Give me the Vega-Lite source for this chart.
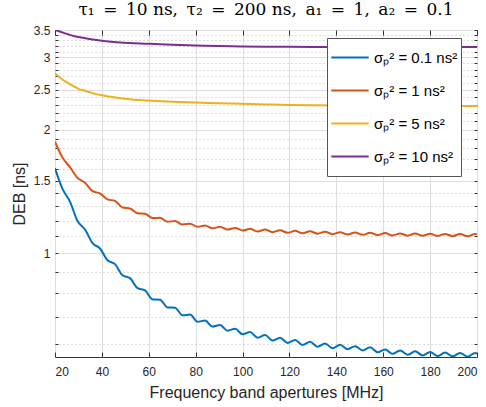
{
  "$schema": "https://vega.github.io/schema/vega-lite/v6.json",
  "width": 422,
  "height": 327,
  "autosize": {"type": "none"},
  "padding": {"left": 55, "top": 30, "right": 9, "bottom": 50},
  "background": "white",
  "title": {"text": "τ₁\u2002=\u200210 ns,\u2002τ₂\u2002=\u2002200 ns,\u2002a₁\u2002=\u20021,\u2002a₂\u2002=\u20020.1", "font": "DejaVu Serif", "fontSize": 17, "fontWeight": "normal", "color": "#000000", "anchor": "middle", "baseline": "alphabetic", "offset": 13, "dy": 21},
  "config": {
    "view": {"stroke": "#333333", "strokeWidth": 1},
    "axis": {"labelFont": "Liberation Sans", "labelFontSize": 12, "labelColor": "#262626", "titleFont": "Liberation Sans", "titleFontSize": 16, "titleFontWeight": "normal", "titleColor": "#262626", "domain": false, "tickColor": "#333333"}
  },
  "data": {"values": [
    {"s":"0.1","f":20,"d":1.61},{"s":"0.1","f":23.2,"d":1.434},{"s":"0.1","f":26.4,"d":1.335},{"s":"0.1","f":29.6,"d":1.197},{"s":"0.1","f":32.8,"d":1.142},{"s":"0.1","f":36,"d":1.058},{"s":"0.1","f":39.2,"d":1.026},{"s":"0.1","f":42.4,"d":0.961},{"s":"0.1","f":45.6,"d":0.94},{"s":"0.1","f":48.8,"d":0.883},{"s":"0.1","f":52,"d":0.869},{"s":"0.1","f":55.2,"d":0.821},{"s":"0.1","f":58.4,"d":0.811},{"s":"0.1","f":61.6,"d":0.771},{"s":"0.1","f":64.8,"d":0.77},{"s":"0.1","f":68,"d":0.737},{"s":"0.1","f":71.2,"d":0.736},{"s":"0.1","f":74.4,"d":0.705},{"s":"0.1","f":77.6,"d":0.708},{"s":"0.1","f":80.8,"d":0.68},{"s":"0.1","f":84,"d":0.685},{"s":"0.1","f":87.2,"d":0.662},{"s":"0.1","f":90.4,"d":0.668},{"s":"0.1","f":93.6,"d":0.647},{"s":"0.1","f":96.8,"d":0.654},{"s":"0.1","f":100,"d":0.634},{"s":"0.1","f":103.2,"d":0.642},{"s":"0.1","f":106.4,"d":0.622},{"s":"0.1","f":109.6,"d":0.631},{"s":"0.1","f":112.8,"d":0.612},{"s":"0.1","f":116,"d":0.622},{"s":"0.1","f":119.2,"d":0.604},{"s":"0.1","f":122.4,"d":0.614},{"s":"0.1","f":125.6,"d":0.597},{"s":"0.1","f":128.8,"d":0.608},{"s":"0.1","f":132,"d":0.591},{"s":"0.1","f":135.2,"d":0.602},{"s":"0.1","f":138.4,"d":0.586},{"s":"0.1","f":141.6,"d":0.598},{"s":"0.1","f":144.8,"d":0.583},{"s":"0.1","f":148,"d":0.593},{"s":"0.1","f":151.2,"d":0.579},{"s":"0.1","f":154.4,"d":0.589},{"s":"0.1","f":157.6,"d":0.573},{"s":"0.1","f":160.8,"d":0.582},{"s":"0.1","f":164,"d":0.568},{"s":"0.1","f":167.2,"d":0.579},{"s":"0.1","f":170.4,"d":0.565},{"s":"0.1","f":173.6,"d":0.576},{"s":"0.1","f":176.8,"d":0.563},{"s":"0.1","f":180,"d":0.574},{"s":"0.1","f":183.2,"d":0.561},{"s":"0.1","f":186.4,"d":0.572},{"s":"0.1","f":189.6,"d":0.56},{"s":"0.1","f":192.8,"d":0.571},{"s":"0.1","f":196,"d":0.559},{"s":"0.1","f":199.2,"d":0.571},{"s":"0.1","f":200,"d":0.569},
    {"s":"1","f":20,"d":1.87},{"s":"1","f":23.2,"d":1.71},{"s":"1","f":26.4,"d":1.62},{"s":"1","f":29.6,"d":1.526},{"s":"1","f":32.8,"d":1.484},{"s":"1","f":36,"d":1.416},{"s":"1","f":39.2,"d":1.398},{"s":"1","f":42.4,"d":1.352},{"s":"1","f":45.6,"d":1.341},{"s":"1","f":48.8,"d":1.292},{"s":"1","f":52,"d":1.285},{"s":"1","f":55.2,"d":1.25},{"s":"1","f":58.4,"d":1.247},{"s":"1","f":61.6,"d":1.218},{"s":"1","f":64.8,"d":1.219},{"s":"1","f":68,"d":1.193},{"s":"1","f":71.2,"d":1.197},{"s":"1","f":74.4,"d":1.174},{"s":"1","f":77.6,"d":1.18},{"s":"1","f":80.8,"d":1.159},{"s":"1","f":84,"d":1.168},{"s":"1","f":87.2,"d":1.149},{"s":"1","f":90.4,"d":1.159},{"s":"1","f":93.6,"d":1.141},{"s":"1","f":96.8,"d":1.152},{"s":"1","f":100,"d":1.135},{"s":"1","f":103.2,"d":1.146},{"s":"1","f":106.4,"d":1.129},{"s":"1","f":109.6,"d":1.141},{"s":"1","f":112.8,"d":1.125},{"s":"1","f":116,"d":1.137},{"s":"1","f":119.2,"d":1.121},{"s":"1","f":122.4,"d":1.133},{"s":"1","f":125.6,"d":1.118},{"s":"1","f":128.8,"d":1.13},{"s":"1","f":132,"d":1.115},{"s":"1","f":135.2,"d":1.128},{"s":"1","f":138.4,"d":1.112},{"s":"1","f":141.6,"d":1.125},{"s":"1","f":144.8,"d":1.11},{"s":"1","f":148,"d":1.123},{"s":"1","f":151.2,"d":1.108},{"s":"1","f":154.4,"d":1.121},{"s":"1","f":157.6,"d":1.106},{"s":"1","f":160.8,"d":1.119},{"s":"1","f":164,"d":1.104},{"s":"1","f":167.2,"d":1.117},{"s":"1","f":170.4,"d":1.103},{"s":"1","f":173.6,"d":1.116},{"s":"1","f":176.8,"d":1.102},{"s":"1","f":180,"d":1.115},{"s":"1","f":183.2,"d":1.101},{"s":"1","f":186.4,"d":1.114},{"s":"1","f":189.6,"d":1.1},{"s":"1","f":192.8,"d":1.114},{"s":"1","f":196,"d":1.099},{"s":"1","f":199.2,"d":1.113},{"s":"1","f":200,"d":1.11},
    {"s":"5","f":20,"d":2.746},{"s":"5","f":22,"d":2.68},{"s":"5","f":24,"d":2.63},{"s":"5","f":26,"d":2.59},{"s":"5","f":28,"d":2.55},{"s":"5","f":30,"d":2.515},{"s":"5","f":33,"d":2.485},{"s":"5","f":36,"d":2.455},{"s":"5","f":40,"d":2.425},{"s":"5","f":44,"d":2.405},{"s":"5","f":48,"d":2.386},{"s":"5","f":52,"d":2.372},{"s":"5","f":56,"d":2.362},{"s":"5","f":60,"d":2.355},{"s":"5","f":65,"d":2.347},{"s":"5","f":70,"d":2.34},{"s":"5","f":80,"d":2.33},{"s":"5","f":90,"d":2.32},{"s":"5","f":100,"d":2.312},{"s":"5","f":110,"d":2.305},{"s":"5","f":120,"d":2.298},{"s":"5","f":130,"d":2.293},{"s":"5","f":140,"d":2.29},{"s":"5","f":150,"d":2.288},{"s":"5","f":160,"d":2.287},{"s":"5","f":170,"d":2.286},{"s":"5","f":180,"d":2.285},{"s":"5","f":190,"d":2.285},{"s":"5","f":200,"d":2.285},
    {"s":"10","f":20,"d":3.5},{"s":"10","f":22,"d":3.47},{"s":"10","f":24,"d":3.44},{"s":"10","f":26,"d":3.41},{"s":"10","f":28,"d":3.385},{"s":"10","f":30,"d":3.365},{"s":"10","f":33,"d":3.34},{"s":"10","f":36,"d":3.318},{"s":"10","f":40,"d":3.295},{"s":"10","f":44,"d":3.277},{"s":"10","f":48,"d":3.262},{"s":"10","f":54,"d":3.248},{"s":"10","f":60,"d":3.238},{"s":"10","f":70,"d":3.222},{"s":"10","f":80,"d":3.209},{"s":"10","f":90,"d":3.199},{"s":"10","f":100,"d":3.191},{"s":"10","f":110,"d":3.187},{"s":"10","f":120,"d":3.184},{"s":"10","f":130,"d":3.182},{"s":"10","f":140,"d":3.181},{"s":"10","f":160,"d":3.18},{"s":"10","f":180,"d":3.18},{"s":"10","f":200,"d":3.18}
  ]},
  "resolve": {"axis": {"x": "independent", "y": "independent"}},
  "layer": [
    {
      "mark": {"type": "line", "interpolate": "monotone", "strokeWidth": 2, "clip": true},
      "encoding": {
        "x": {"field": "f", "type": "quantitative", "scale": {"domain": [20, 200], "nice": false},
          "axis": {"orient": "bottom", "title": "Frequency band apertures [MHz]", "values": [20,40,60,80,100,120,140,160,180,200], "tickSize": -5, "labelPadding": 14, "titlePadding": 7, "grid": true, "gridColor": "#dedede", "gridWidth": 1}},
        "y": {"field": "d", "type": "quantitative", "scale": {"type": "log", "domain": [0.558, 3.5], "nice": false},
          "axis": {"orient": "left", "title": "DEB [ns]", "titlePadding": 6,
            "values": [0.6,0.7,0.8,0.9,1,1.1,1.2,1.3,1.4,1.5,1.6,1.7,1.8,1.9,2,2.1,2.2,2.3,2.4,2.5,2.6,2.7,2.8,2.9,3,3.1,3.2,3.3,3.4,3.5],
            "labelExpr": "indexof([1,1.5,2,2.5,3,3.5], datum.value) >= 0 ? format(datum.value, '~g') : ''",
            "tickSize": -3, "labelPadding": 8,
            "grid": true,
            "gridDash": {"condition": {"test": "indexof([1,1.5,2,2.5,3,3.5], datum.value) >= 0", "value": []}, "value": [1, 3]},
            "gridColor": {"condition": {"test": "indexof([1,1.5,2,2.5,3,3.5], datum.value) >= 0", "value": "#dedede"}, "value": "#b8b8b8"}}},
        "color": {"field": "s", "type": "nominal", "sort": ["0.1", "1", "5", "10"],
          "scale": {"domain": ["0.1", "1", "5", "10"], "range": ["#0072BD", "#D95319", "#EDB120", "#7E2F8E"]},
          "legend": {"title": null, "orient": "none", "legendX": 272, "legendY": 8, "symbolType": "stroke", "symbolSize": 1400, "symbolStrokeWidth": 2, "labelFont": "Liberation Sans", "labelFontSize": 15, "labelColor": "#000000", "fillColor": "white", "strokeColor": "#555555", "padding": 3, "rowPadding": 0, "clipHeight": 33, "labelOffset": 4, "labelExpr": "'σₚ² = ' + datum.label + ' ns²'"}}
      }
    },
    {
      "mark": {"type": "point", "opacity": 0},
      "encoding": {
        "x": {"field": "f", "type": "quantitative",
          "axis": {"orient": "top", "title": null, "labels": false, "grid": false, "minExtent": 0, "maxExtent": 0, "values": [20,40,60,80,100,120,140,160,180,200], "tickSize": -5}},
        "y": {"field": "d", "type": "quantitative",
          "axis": {"orient": "right", "title": null, "labels": false, "grid": false, "minExtent": 0, "maxExtent": 0, "tickSize": -3,
            "values": [0.6,0.7,0.8,0.9,1,1.1,1.2,1.3,1.4,1.5,1.6,1.7,1.8,1.9,2,2.1,2.2,2.3,2.4,2.5,2.6,2.7,2.8,2.9,3,3.1,3.2,3.3,3.4,3.5]}}
      }
    }
  ]
}
